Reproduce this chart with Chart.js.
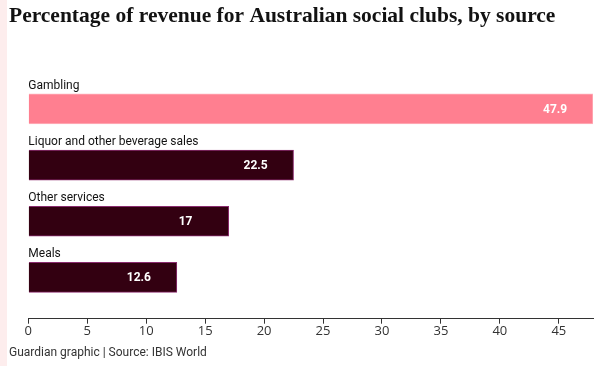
<!DOCTYPE html>
<html>
<head>
<meta charset="utf-8">
<script src="https://cdn.jsdelivr.net/npm/chart.js@4"></script>
<style>
  html, body { margin: 0; padding: 0; background: #fff; }
  #wrap { width: 603px; height: 366px; }
</style>
</head>
<body>
<div id="wrap"><canvas id="myChart" width="603" height="366"></canvas></div>
<script>
const categories = ['Gambling', 'Liquor and other beverage sales', 'Other services', 'Meals']
const shares = [47.9, 22.5, 17, 12.6]
const barColors = ['#ff7f90', '#330011', '#330011', '#330011']
const borderColors = ['#ffb3bd', '#8a2b6e', '#8a2b6e', '#8a2b6e']
const xTicks = [0, 5, 10, 15, 20, 25, 30, 35, 40, 45]

// left pink strip of the guardian template
const sideStrip = {
    id: 'sideStrip',
    beforeDraw(chart) {
        const c = chart.ctx
        c.save()
        c.fillStyle = '#fdeded'
        c.fillRect(0, 0, 7, chart.height)
        c.restore()
    }
}

// category names above the bars, values inside the bar ends
const barText = {
    id: 'barText',
    afterDatasetsDraw(chart) {
        const c = chart.ctx
        const bars = chart.getDatasetMeta(0).data
        c.save()
        bars.forEach((bar, i) => {
            c.font = '12px Roboto'
            c.fillStyle = '#121212'
            c.textAlign = 'left'
            c.textBaseline = 'alphabetic'
            c.fillText(categories[i], chart.chartArea.left, bar.y - bar.height / 2 - 5)

            c.font = 'bold 12px Roboto'
            c.fillStyle = '#ffffff'
            c.textBaseline = 'middle'
            c.fillText(String(shares[i]), bar.x - 50, bar.y + 1)
        })
        c.restore()
    }
}

const ctx = document.getElementById('myChart')

const myChart = new Chart(ctx, {
    type: 'bar',
    data: {
        datasets: [{
            label: 'Percentage of revenue',
            data: shares.map((v, i) => ({ x: v, y: i })),
            backgroundColor: barColors,
            borderColor: borderColors,
            borderWidth: 1,
            barThickness: 30
        }]
    },
    options: {
        indexAxis: 'y',
        responsive: false,
        animation: false,
        layout: {
            padding: { left: 9, right: 10, top: 0, bottom: 0 }
        },
        scales: {
            x: {
                type: 'linear',
                min: 0,
                max: Math.max(...shares),
                afterBuildTicks(scale) {
                    scale.ticks = xTicks.map(v => ({ value: v }))
                },
                ticks: {
                    padding: 0,
                    color: '#333333',
                    font: { family: 'Open Sans', size: 13 }
                },
                grid: {
                    drawOnChartArea: false,
                    drawTicks: true,
                    tickLength: 5,
                    tickColor: '#333333'
                },
                border: { display: true, color: '#333333', width: 1 }
            },
            y: {
                type: 'linear',
                reverse: true,
                offset: false,
                min: -0.5,
                max: categories.length - 0.265,
                ticks: { display: false },
                grid: { display: false },
                border: { display: false },
                afterFit(scale) {
                    scale.width = 19.3
                }
            }
        },
        plugins: {
            legend: { display: false },
            tooltip: { enabled: false },
            title: {
                display: true,
                text: 'Percentage of revenue for Australian social clubs, by source',
                align: 'start',
                color: '#121212',
                font: { family: 'Liberation Serif', size: 21.5, weight: 'bold' },
                padding: { top: 4, bottom: 51 }
            },
            subtitle: {
                display: true,
                position: 'bottom',
                align: 'start',
                text: 'Guardian graphic | Source: IBIS World',
                color: '#333333',
                font: { family: 'Roboto', size: 12 },
                padding: { top: 6.5, bottom: 5.8 }
            }
        }
    },
    plugins: [sideStrip, barText]
})
</script>
</body>
</html>
